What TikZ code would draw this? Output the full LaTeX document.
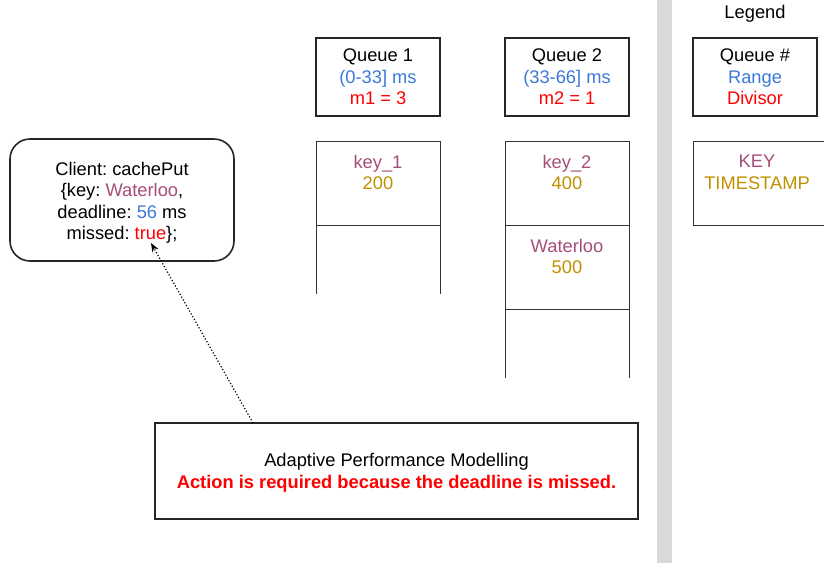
\documentclass[tikz,border=0pt]{standalone}
\usepackage{fontspec}
\setmainfont{Liberation Sans}
\usetikzlibrary{arrows.meta}
\frenchspacing
\definecolor{keyc}{HTML}{A64D79}
\definecolor{tsc}{HTML}{BF9000}
\definecolor{rangec}{HTML}{3C78D8}
\definecolor{divc}{HTML}{FF0000}
\definecolor{linec}{HTML}{333333}
\definecolor{barc}{HTML}{D9D9D9}
\tikzset{
  txt/.style={inner sep=0pt, align=center, font=\fontsize{18.3}{21.5}\selectfont},
  headbox/.style={draw=black!85, line width=1.6pt, minimum width=124pt, minimum height=78pt, inner sep=0pt, txt},
  slot/.style={draw=linec, line width=0.9pt},
}
\begin{document}
\begin{tikzpicture}[x=1pt,y=-1pt]
\useasboundingbox (0,0) rectangle (824,563);
% separator bar
\fill[barc] (657,0) rectangle (672,563);
\node[txt] (legend) at (755,14) {Legend};

% queue headers
\node[headbox] (q1) at (378,77) {Queue 1\\\textcolor{rangec}{(0-33] ms}\\\textcolor{divc}{m1 = 3}};
\node[headbox] (q2) at (567,77) {Queue 2\\\textcolor{rangec}{(33-66] ms}\\\textcolor{divc}{m2 = 1}};
\node[headbox] (lq) at (755,77) {Queue \#\\\textcolor{rangec}{Range}\\\textcolor{divc}{Divisor}};

% queue 1 slots
\draw[slot] (316,294) -- (316,141) -- (440,141) -- (440,294);
\draw[slot] (316,225) -- (440,225);
\node[txt] (k1) at (378,172.5) {\textcolor{keyc}{key\_1}\\\textcolor{tsc}{200}};

% queue 2 slots
\draw[slot] (505,378) -- (505,141) -- (629,141) -- (629,378);
\draw[slot] (505,225) -- (629,225);
\draw[slot] (505,309) -- (629,309);
\node[txt] (k2) at (567,172.5) {\textcolor{keyc}{key\_2}\\\textcolor{tsc}{400}};
\node[txt] (k3) at (567,256.5) {\textcolor{keyc}{Waterloo}\\\textcolor{tsc}{500}};

% legend slot
\draw[slot] (824,141) -- (693,141) -- (693,225) -- (824,225);
\node[txt] (lk) at (757,172.5) {\textcolor{keyc}{KEY}\\\textcolor{tsc}{TIMESTAMP}};

% client request
\draw[black!85, line width=1.6pt, rounded corners=20pt] (10,139) rectangle (234,261);
\node[txt] (client) at (122,203) {Client: cachePut\\\{key: \textcolor{keyc}{Waterloo},\\deadline: \textcolor{rangec}{56} ms\\missed: \textcolor{divc}{true}\};};
\coordinate (tip) at (151,243);

% adaptive modelling box
\draw[black!85, line width=1.6pt] (155,423) rectangle (638,519);
\node[txt] (apm) at (396.5,473)
  {Adaptive Performance Modelling\\\textcolor{divc}{\bfseries Action is required because the deadline is missed.}};
\coordinate (src) at (253,423);
\draw[line width=1.2pt, dotted, -{Stealth[length=9pt,width=7pt]}] (src) -- (tip);
\end{tikzpicture}
\end{document}
